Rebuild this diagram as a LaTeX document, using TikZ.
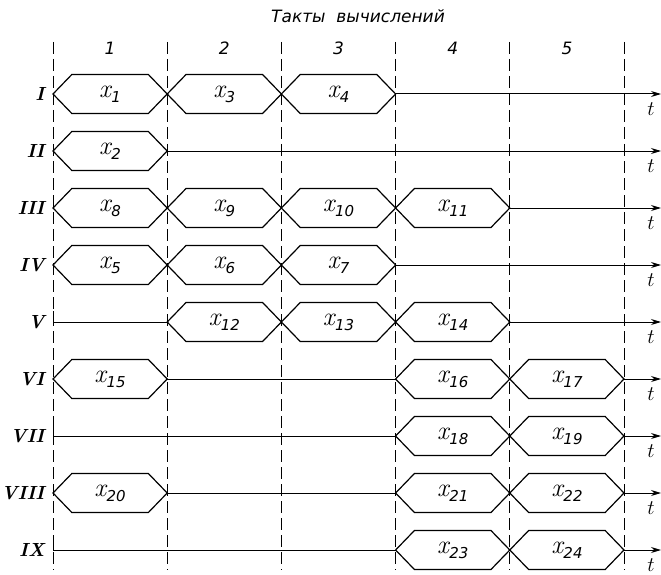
\documentclass[tikz,border=0pt]{standalone}
\usepackage{fontspec}
\newfontfamily\gost{DejaVu Sans}
\usetikzlibrary{shapes.symbols,arrows.meta}
\newcommand\xsub[1]{{\fontsize{26}{28}\selectfont\itshape x}\kern0.5pt\raisebox{-5pt}{\fontsize{15}{17}\gost\itshape #1}}
\begin{document}
\begin{tikzpicture}[x=1pt,y=-1pt,
  hexbox/.style={signal, signal to=east and west, signal pointer angle=92,
    draw, line width=1.2pt, minimum width=114.2pt, minimum height=39pt,
    inner sep=0pt, outer sep=0pt, font=\fontsize{22}{24}\selectfont},
  tline/.style={line width=1pt},
  tarrow/.style={line width=1pt, -{Stealth[length=10pt,width=6pt]}},
  grid/.style={line width=0.9pt, dash pattern=on 12pt off 5pt},
  rowlab/.style={anchor=east, font=\fontsize{19}{21}\selectfont\bfseries\itshape},
  tlab/.style={font=\fontsize{21}{24}\selectfont},
  collab/.style={font=\fontsize{17}{20}\selectfont\gost\itshape},
]
\useasboundingbox (0,0) rectangle (661,575);

% title and column numbers
\node[collab] (title) at (358,16) {Такты\ \ вычислений};
\foreach \c/\xx in {1/110.1,2/224.3,3/338.5,4/452.7,5/566.9}
  \node[collab] (n\c) at (\xx,48) {\c};

% dashed column boundaries
\foreach \k/\xx in {0/53,1/167.2,2/281.4,3/395.6,4/509.8,5/624}{
  \coordinate (top\k) at (\xx,42);
  \coordinate (bot\k) at (\xx,570);
  \draw[grid] (top\k) -- (bot\k);
}

% row labels and start / end coordinates
\foreach \r/\lab/\yy in {1/I/94,2/II/151,3/III/208,4/IV/265,5/V/322,6/VI/379,7/VII/436,8/VIII/493,9/IX/550}{
  \node[rowlab] (r\r) at (48,\yy) {\lab};
  \coordinate (s\r) at (53,\yy);
  \coordinate (e\r) at (661,\yy);
  \node[tlab] (t\r) at (651,\yy+15) {$t$};
}

% row I
\node[hexbox] (x1) at (110.1,94) {\xsub{1}};
\node[hexbox] (x3) at (224.3,94) {\xsub{3}};
\node[hexbox] (x4) at (338.5,94) {\xsub{4}};
\draw[tarrow] (x4.east) -- (e1);
% row II
\node[hexbox] (x2) at (110.1,151) {\xsub{2}};
\draw[tarrow] (x2.east) -- (e2);
% row III
\node[hexbox] (x8) at (110.1,208) {\xsub{8}};
\node[hexbox] (x9) at (224.3,208) {\xsub{9}};
\node[hexbox] (x10) at (338.5,208) {\xsub{10}};
\node[hexbox] (x11) at (452.7,208) {\xsub{11}};
\draw[tarrow] (x11.east) -- (e3);
% row IV
\node[hexbox] (x5) at (110.1,265) {\xsub{5}};
\node[hexbox] (x6) at (224.3,265) {\xsub{6}};
\node[hexbox] (x7) at (338.5,265) {\xsub{7}};
\draw[tarrow] (x7.east) -- (e4);
% row V
\node[hexbox] (x12) at (224.3,322) {\xsub{12}};
\node[hexbox] (x13) at (338.5,322) {\xsub{13}};
\node[hexbox] (x14) at (452.7,322) {\xsub{14}};
\draw[tline] (s5) -- (x12.west);
\draw[tarrow] (x14.east) -- (e5);
% row VI
\node[hexbox] (x15) at (110.1,379) {\xsub{15}};
\node[hexbox] (x16) at (452.7,379) {\xsub{16}};
\node[hexbox] (x17) at (566.9,379) {\xsub{17}};
\draw[tline] (x15.east) -- (x16.west);
\draw[tarrow] (x17.east) -- (e6);
% row VII
\node[hexbox] (x18) at (452.7,436) {\xsub{18}};
\node[hexbox] (x19) at (566.9,436) {\xsub{19}};
\draw[tline] (s7) -- (x18.west);
\draw[tarrow] (x19.east) -- (e7);
% row VIII
\node[hexbox] (x20) at (110.1,493) {\xsub{20}};
\node[hexbox] (x21) at (452.7,493) {\xsub{21}};
\node[hexbox] (x22) at (566.9,493) {\xsub{22}};
\draw[tline] (x20.east) -- (x21.west);
\draw[tarrow] (x22.east) -- (e8);
% row IX
\node[hexbox] (x23) at (452.7,550) {\xsub{23}};
\node[hexbox] (x24) at (566.9,550) {\xsub{24}};
\draw[tline] (s9) -- (x23.west);
\draw[tarrow] (x24.east) -- (e9);

% start ticks of rows beginning with a line
\foreach \r in {5,7,9}
  \draw[tline] (s\r) -- ++(0,-11);
\end{tikzpicture}
\end{document}
